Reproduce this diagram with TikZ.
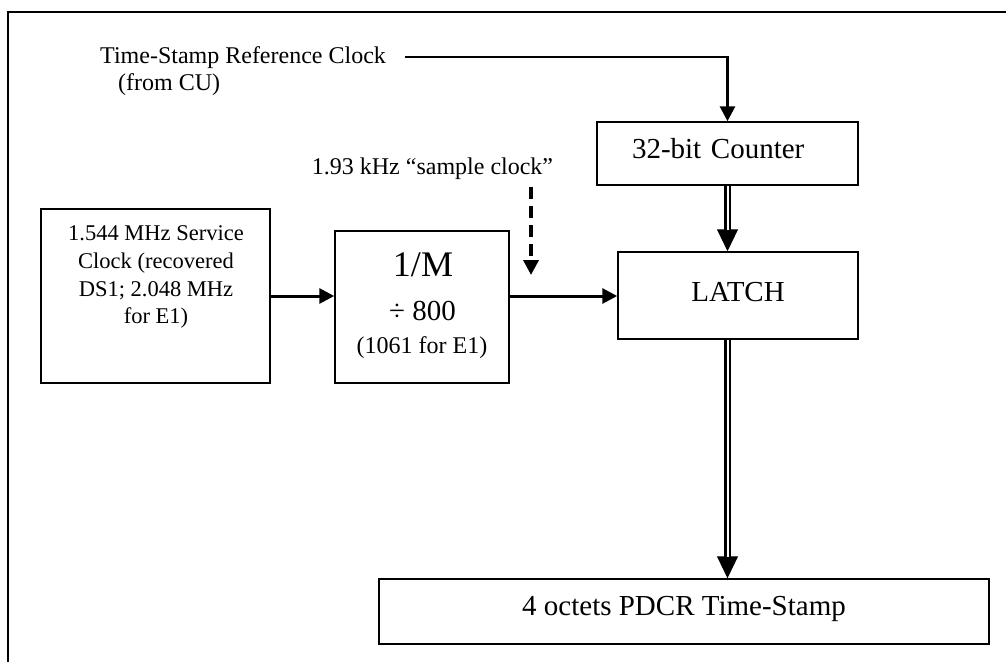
\documentclass[tikz,border=0pt]{standalone}
\usepackage{fontspec}
\setmainfont{Liberation Serif}
\usetikzlibrary{arrows.meta,calc}
\newcommand\lblfont{\fontsize{24}{28}\selectfont}
\newcommand\svcfont{\fontsize{22.5}{27.7}\selectfont}
\newcommand\bigfont{\fontsize{29}{34}\selectfont}
\begin{document}
\begin{tikzpicture}[x=1pt,y=-1pt,
  box/.style={draw, line width=1.5pt, rectangle, inner sep=0pt},
  arr/.style={line width=3pt, -{Triangle[length=15pt,width=15pt]}},
  dasharr/.style={line width=3.5pt, dash pattern=on 12pt off 7pt, -{Triangle[length=15pt,width=15pt]}},
  dbltip/.style={line width=1pt, -{Triangle[length=22pt,width=21pt]}},
  dbl/.style={double, double distance=2pt, line width=2.2pt, shorten >=21.5pt},
  thin/.style={line width=1.5pt}
]
\useasboundingbox (0,0) rectangle (1006,662);
% frame
\draw[line width=2.5pt] (8,662) -- (8,12) -- (1006,12);

% boxes
\node[box, minimum width=229pt, minimum height=174pt] (svc) at (155.5,296) {};
\node[box, minimum width=174pt, minimum height=152pt] (div) at (422,307) {};
\node[box, font=\bigfont, text width=191pt, align=left, inner xsep=35pt,
      minimum height=63pt, text height=9pt, text depth=0pt] (cnt) at (727.5,153.5) {32-bit Counter};
\node[box, font=\bigfont, minimum width=240pt, minimum height=87pt,
      text height=11pt, text depth=0pt] (latch) at (738,295.5) {LATCH};
\node[box, font=\bigfont, minimum width=610pt, minimum height=65pt,
      text height=7pt, text depth=0pt] (out) at (684,611.5) {4 octets PDCR Time-Stamp};

% texts
\node[font=\svcfont, align=center, anchor=north, inner sep=0pt] (svctxt) at (156,225.5)
  {1.544 MHz Service\\Clock (recovered\\DS1; 2.048 MHz\\for E1)};
\node[font=\fontsize{36}{40}\selectfont, anchor=base, inner sep=0pt] (onem) at (423,276) {1/M};
\node[font=\bigfont, anchor=base, inner sep=0pt] (d800) at (422.5,320) {÷ 800};
\node[font=\lblfont, anchor=base, inner sep=0pt] (e1) at (422,353) {(1061 for E1)};

\node[font=\lblfont, anchor=base west, inner sep=0pt] (ref) at (100,63) {Time-Stamp Reference Clock};
\node[font=\lblfont, anchor=base west, inner sep=0pt] (refcu) at (118,90) {(from CU)};
\node[font=\lblfont, anchor=base, inner sep=0pt] (smp) at (432.5,174) {1.93 kHz “sample clock”};

% connectors
\coordinate (refend) at (405,57);
\draw[thin] (refend) -- (cnt.north |- refend);
\draw[arr] ($(cnt.north |- refend)+(0,-1.5)$) -- (cnt.north);

\draw[arr] (svc.east |- 0,296) -- (div.west |- 0,296);
\draw[arr] (div.east |- 0,296) -- (latch.west |- 0,296);

\coordinate (dstart) at (531,187);
\coordinate (dend) at (531,275);
\draw[dasharr] (dstart) -- (dend);

\draw[dbltip] (cnt.south) -- (cnt.south |- latch.north);
\draw[dbl] (cnt.south) -- (cnt.south |- latch.north);
\draw[dbltip] (cnt.south |- latch.south) -- (cnt.south |- out.north);
\draw[dbl] (cnt.south |- latch.south) -- (cnt.south |- out.north);
\end{tikzpicture}
\end{document}
